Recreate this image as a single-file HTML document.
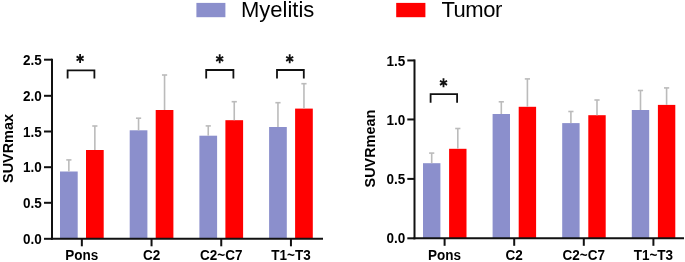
<!DOCTYPE html>
<html><head><meta charset="utf-8"><style>
html,body{margin:0;padding:0;background:#fff;}
body{width:685px;height:262px;overflow:hidden;}
svg{display:block;will-change:transform;}
.t{font-family:"Liberation Sans",sans-serif;font-weight:bold;font-size:13.5px;fill:#000;}
.yl{font-family:"Liberation Sans",sans-serif;font-weight:bold;font-size:14.4px;fill:#000;}
.lg{font-family:"Liberation Sans",sans-serif;font-size:22px;fill:#000;}
</style></head><body>
<svg width="685" height="262" viewBox="0 0 685 262">
<rect width="685" height="262" fill="#fff"/>
<rect x="196.4" y="2.9" width="29" height="14.3" fill="#8B8FCC"/>
<text x="241" y="17.2" class="lg">Myelitis</text>
<rect x="396.2" y="2.9" width="29.2" height="14.3" fill="#FF0000"/>
<text x="441.5" y="17.2" class="lg" letter-spacing="-0.5">Tumor</text>
<rect x="60.0" y="171.5" width="17.7" height="67.3" fill="#8B8FCC"/>
<rect x="86.0" y="150.0" width="17.7" height="88.8" fill="#FF0000"/>
<line x1="68.85" y1="171.5" x2="68.85" y2="159.9" stroke="#BBBBBB" stroke-width="1.6"/>
<line x1="66.25" y1="159.9" x2="71.45" y2="159.9" stroke="#BBBBBB" stroke-width="1.6"/>
<line x1="94.85" y1="150.0" x2="94.85" y2="126.0" stroke="#BBBBBB" stroke-width="1.6"/>
<line x1="92.25" y1="126.0" x2="97.45" y2="126.0" stroke="#BBBBBB" stroke-width="1.6"/>
<rect x="129.7" y="130.3" width="17.7" height="108.5" fill="#8B8FCC"/>
<rect x="155.7" y="110.0" width="17.7" height="128.8" fill="#FF0000"/>
<line x1="138.55" y1="130.3" x2="138.55" y2="118.2" stroke="#BBBBBB" stroke-width="1.6"/>
<line x1="135.95" y1="118.2" x2="141.15" y2="118.2" stroke="#BBBBBB" stroke-width="1.6"/>
<line x1="164.55" y1="110.0" x2="164.55" y2="75.0" stroke="#BBBBBB" stroke-width="1.6"/>
<line x1="161.95" y1="75.0" x2="167.15" y2="75.0" stroke="#BBBBBB" stroke-width="1.6"/>
<rect x="199.4" y="135.7" width="17.7" height="103.1" fill="#8B8FCC"/>
<rect x="225.4" y="120.2" width="17.7" height="118.6" fill="#FF0000"/>
<line x1="208.25" y1="135.7" x2="208.25" y2="125.9" stroke="#BBBBBB" stroke-width="1.6"/>
<line x1="205.65" y1="125.9" x2="210.85" y2="125.9" stroke="#BBBBBB" stroke-width="1.6"/>
<line x1="234.25" y1="120.2" x2="234.25" y2="101.7" stroke="#BBBBBB" stroke-width="1.6"/>
<line x1="231.65" y1="101.7" x2="236.85" y2="101.7" stroke="#BBBBBB" stroke-width="1.6"/>
<rect x="269.1" y="127.0" width="17.7" height="111.8" fill="#8B8FCC"/>
<rect x="295.1" y="108.6" width="17.7" height="130.2" fill="#FF0000"/>
<line x1="277.95" y1="127.0" x2="277.95" y2="102.7" stroke="#BBBBBB" stroke-width="1.6"/>
<line x1="275.35" y1="102.7" x2="280.55" y2="102.7" stroke="#BBBBBB" stroke-width="1.6"/>
<line x1="303.95" y1="108.6" x2="303.95" y2="83.7" stroke="#BBBBBB" stroke-width="1.6"/>
<line x1="301.35" y1="83.7" x2="306.55" y2="83.7" stroke="#BBBBBB" stroke-width="1.6"/>
<line x1="52" y1="58.7" x2="52" y2="239.8" stroke="#111" stroke-width="2"/>
<line x1="51" y1="238.8" x2="323" y2="238.8" stroke="#111" stroke-width="2"/>
<line x1="44" y1="238.8" x2="52" y2="238.8" stroke="#111" stroke-width="2"/>
<text transform="translate(41.8,243.95) scale(1,1.07)" text-anchor="end" class="t">0.0</text>
<line x1="44" y1="202.8" x2="52" y2="202.8" stroke="#111" stroke-width="2"/>
<text transform="translate(41.8,207.95) scale(1,1.07)" text-anchor="end" class="t">0.5</text>
<line x1="44" y1="167.2" x2="52" y2="167.2" stroke="#111" stroke-width="2"/>
<text transform="translate(41.8,172.35) scale(1,1.07)" text-anchor="end" class="t">1.0</text>
<line x1="44" y1="131.5" x2="52" y2="131.5" stroke="#111" stroke-width="2"/>
<text transform="translate(41.8,136.65) scale(1,1.07)" text-anchor="end" class="t">1.5</text>
<line x1="44" y1="95.8" x2="52" y2="95.8" stroke="#111" stroke-width="2"/>
<text transform="translate(41.8,100.95) scale(1,1.07)" text-anchor="end" class="t">2.0</text>
<line x1="44" y1="59.7" x2="52" y2="59.7" stroke="#111" stroke-width="2"/>
<text transform="translate(41.8,64.85) scale(1,1.07)" text-anchor="end" class="t">2.5</text>
<line x1="81.85" y1="238.8" x2="81.85" y2="246.3" stroke="#111" stroke-width="2"/>
<text transform="translate(81.85,259.8) scale(1,1.07)" text-anchor="middle" class="t">Pons</text>
<line x1="151.55" y1="238.8" x2="151.55" y2="246.3" stroke="#111" stroke-width="2"/>
<text transform="translate(151.55,259.8) scale(1,1.07)" text-anchor="middle" class="t">C2</text>
<line x1="221.25" y1="238.8" x2="221.25" y2="246.3" stroke="#111" stroke-width="2"/>
<text transform="translate(221.25,259.8) scale(1,1.07)" text-anchor="middle" class="t">C2~C7</text>
<line x1="290.95" y1="238.8" x2="290.95" y2="246.3" stroke="#111" stroke-width="2"/>
<text transform="translate(290.95,259.8) scale(1,1.07)" text-anchor="middle" class="t">T1~T3</text>
<text transform="translate(12.8,148.5) rotate(-90)" text-anchor="middle" class="yl">SUVRmax</text>
<rect x="423.0" y="163.2" width="17.4" height="75.1" fill="#8B8FCC"/>
<rect x="449.1" y="148.8" width="17.4" height="89.5" fill="#FF0000"/>
<line x1="431.7" y1="163.2" x2="431.7" y2="153.1" stroke="#BBBBBB" stroke-width="1.6"/>
<line x1="429.1" y1="153.1" x2="434.3" y2="153.1" stroke="#BBBBBB" stroke-width="1.6"/>
<line x1="457.8" y1="148.8" x2="457.8" y2="128.5" stroke="#BBBBBB" stroke-width="1.6"/>
<line x1="455.2" y1="128.5" x2="460.4" y2="128.5" stroke="#BBBBBB" stroke-width="1.6"/>
<rect x="492.6" y="114.0" width="17.4" height="124.3" fill="#8B8FCC"/>
<rect x="518.7" y="106.8" width="17.4" height="131.5" fill="#FF0000"/>
<line x1="501.3" y1="114.0" x2="501.3" y2="101.8" stroke="#BBBBBB" stroke-width="1.6"/>
<line x1="498.7" y1="101.8" x2="503.9" y2="101.8" stroke="#BBBBBB" stroke-width="1.6"/>
<line x1="527.4" y1="106.8" x2="527.4" y2="78.9" stroke="#BBBBBB" stroke-width="1.6"/>
<line x1="524.8" y1="78.9" x2="530" y2="78.9" stroke="#BBBBBB" stroke-width="1.6"/>
<rect x="562.2" y="123.1" width="17.4" height="115.2" fill="#8B8FCC"/>
<rect x="588.3" y="115.2" width="17.4" height="123.1" fill="#FF0000"/>
<line x1="570.9" y1="123.1" x2="570.9" y2="111.5" stroke="#BBBBBB" stroke-width="1.6"/>
<line x1="568.3" y1="111.5" x2="573.5" y2="111.5" stroke="#BBBBBB" stroke-width="1.6"/>
<line x1="597.0" y1="115.2" x2="597.0" y2="100.0" stroke="#BBBBBB" stroke-width="1.6"/>
<line x1="594.4" y1="100.0" x2="599.6" y2="100.0" stroke="#BBBBBB" stroke-width="1.6"/>
<rect x="631.8" y="110.0" width="17.4" height="128.3" fill="#8B8FCC"/>
<rect x="657.9" y="104.9" width="17.4" height="133.4" fill="#FF0000"/>
<line x1="640.5" y1="110.0" x2="640.5" y2="90.5" stroke="#BBBBBB" stroke-width="1.6"/>
<line x1="637.9" y1="90.5" x2="643.1" y2="90.5" stroke="#BBBBBB" stroke-width="1.6"/>
<line x1="666.6" y1="104.9" x2="666.6" y2="87.9" stroke="#BBBBBB" stroke-width="1.6"/>
<line x1="664.0" y1="87.9" x2="669.2" y2="87.9" stroke="#BBBBBB" stroke-width="1.6"/>
<line x1="414.5" y1="59.45" x2="414.5" y2="239.3" stroke="#111" stroke-width="2"/>
<line x1="413.5" y1="238.3" x2="684" y2="238.3" stroke="#111" stroke-width="2"/>
<line x1="407.3" y1="238.3" x2="414.5" y2="238.3" stroke="#111" stroke-width="2"/>
<text transform="translate(405.3,243.45) scale(1,1.07)" text-anchor="end" class="t">0.0</text>
<line x1="407.3" y1="178.9" x2="414.5" y2="178.9" stroke="#111" stroke-width="2"/>
<text transform="translate(405.3,184.05) scale(1,1.07)" text-anchor="end" class="t">0.5</text>
<line x1="407.3" y1="119.45" x2="414.5" y2="119.45" stroke="#111" stroke-width="2"/>
<text transform="translate(405.3,124.6) scale(1,1.07)" text-anchor="end" class="t">1.0</text>
<line x1="407.3" y1="60.45" x2="414.5" y2="60.45" stroke="#111" stroke-width="2"/>
<text transform="translate(405.3,65.6) scale(1,1.07)" text-anchor="end" class="t">1.5</text>
<line x1="444.6" y1="238.3" x2="444.6" y2="245.8" stroke="#111" stroke-width="2"/>
<text transform="translate(444.6,259.8) scale(1,1.07)" text-anchor="middle" class="t">Pons</text>
<line x1="514.2" y1="238.3" x2="514.2" y2="245.8" stroke="#111" stroke-width="2"/>
<text transform="translate(514.2,259.8) scale(1,1.07)" text-anchor="middle" class="t">C2</text>
<line x1="583.8" y1="238.3" x2="583.8" y2="245.8" stroke="#111" stroke-width="2"/>
<text transform="translate(583.8,259.8) scale(1,1.07)" text-anchor="middle" class="t">C2~C7</text>
<line x1="653.4" y1="238.3" x2="653.4" y2="245.8" stroke="#111" stroke-width="2"/>
<text transform="translate(653.4,259.8) scale(1,1.07)" text-anchor="middle" class="t">T1~T3</text>
<text transform="translate(374.7,148.6) rotate(-90)" text-anchor="middle" class="yl">SUVRmean</text>
<path d="M67.6 78.6 V70.3 H94.4 V78.6" fill="none" stroke="#111" stroke-width="1.8"/>
<path d="M80.10 53.89 L80.10 62.91 M76.55 56.35 L83.65 60.45 M83.65 56.35 L76.55 60.45" stroke="#111" stroke-width="1.8" stroke-linecap="butt"/>
<path d="M206.2 78.6 V70.0 H233.4 V78.6" fill="none" stroke="#111" stroke-width="1.8"/>
<path d="M219.70 54.29 L219.70 63.31 M216.15 56.75 L223.25 60.85 M223.25 56.75 L216.15 60.85" stroke="#111" stroke-width="1.8" stroke-linecap="butt"/>
<path d="M277.0 78.6 V70.0 H303.8 V78.6" fill="none" stroke="#111" stroke-width="1.8"/>
<path d="M289.70 54.29 L289.70 63.31 M286.15 56.75 L293.25 60.85 M293.25 56.75 L286.15 60.85" stroke="#111" stroke-width="1.8" stroke-linecap="butt"/>
<path d="M430.6 102.7 V94.2 H457.1 V102.7" fill="none" stroke="#111" stroke-width="1.8"/>
<path d="M443.50 78.29 L443.50 87.31 M439.95 80.75 L447.05 84.85 M447.05 80.75 L439.95 84.85" stroke="#111" stroke-width="1.8" stroke-linecap="butt"/>
</svg>
</body></html>
